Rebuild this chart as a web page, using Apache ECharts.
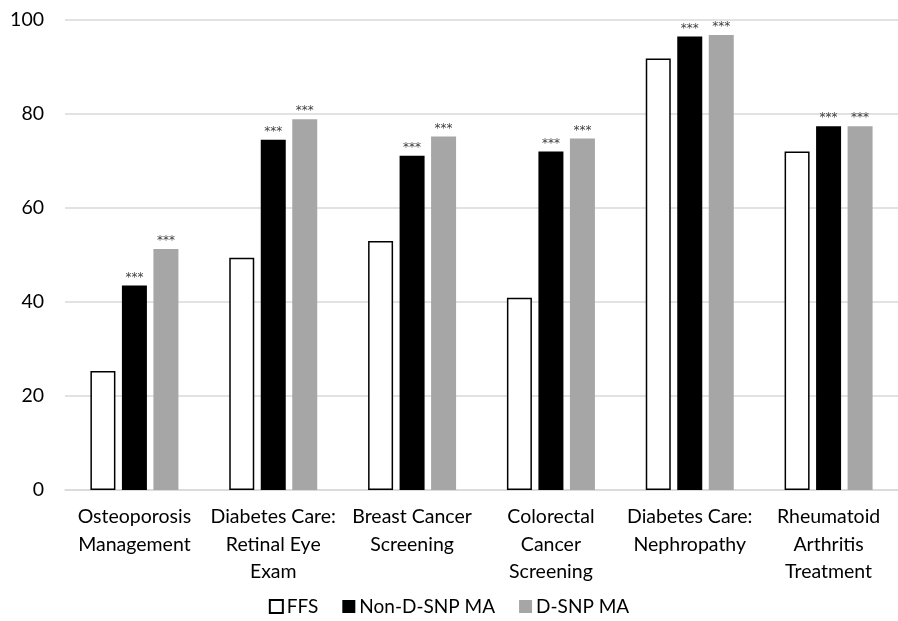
<!DOCTYPE html>
<html><head><meta charset="utf-8">
<script src="https://cdn.jsdelivr.net/npm/echarts@6/dist/echarts.min.js"></script>
<style>html,body{margin:0;padding:0;background:#fff}#c{width:898px;height:621px}</style>
</head><body><div id="c"></div>
<script>
const categories = ['Osteoporosis\nManagement','Diabetes Care:\nRetinal Eye\nExam','Breast Cancer\nScreening','Colorectal\nCancer\nScreening','Diabetes Care:\nNephropathy','Rheumatoid\nArthritis\nTreatment'];
const ffs = [25.3, 49.4, 53.0, 40.9, 91.8, 72.0];
const nonDsnp = [43.5, 74.5, 71.1, 72.0, 96.5, 77.4];
const dsnp = [51.3, 78.9, 75.2, 74.8, 96.8, 77.4];
const seriesNames = ['FFS','Non-D-SNP MA','D-SNP MA'];
const yTicks = {min:0, max:100, interval:20};

const font = 'Lato, "Open Sans", sans-serif';
const chart = echarts.init(document.getElementById('c'), null, {renderer:'canvas'});
const starLabel = {show:true, position:'top', distance:2, formatter:'***', fontSize:12, color:'#404040', fontFamily:'DejaVu Sans'};
chart.setOption({
  animation:false,
  grid:{left:65, right:-9, top:20, bottom:131, containLabel:false},
  legend:{bottom:0, left:'center', itemWidth:13, itemHeight:13, itemGap:24,
    textStyle:{fontSize:19, color:'#000', fontFamily:font, padding:[0,0,0,-1]},
    data:seriesNames.map(n=>({name:n, icon:'rect'}))},
  xAxis:{type:'category', data:categories,
    axisLine:{lineStyle:{color:'#d9d9d9', width:1.5}}, axisTick:{show:false},
    axisLabel:{interval:0, fontSize:19.5, color:'#000', fontFamily:font, lineHeight:27.5, margin:13}},
  yAxis:{type:'value', min:yTicks.min, max:yTicks.max, interval:yTicks.interval,
    axisLine:{show:false}, axisTick:{show:false},
    splitLine:{lineStyle:{color:'#d9d9d9', width:1.5}},
    axisLabel:{fontSize:19.5, color:'#000', fontFamily:font, margin:21}},
  series:[
    {name:seriesNames[0], type:'bar', data:ffs, barWidth:25, barGap:'26%',
      itemStyle:{color:'#fff', borderColor:'#000', borderWidth:1.5}},
    {name:seriesNames[1], type:'bar', data:nonDsnp, barWidth:25,
      itemStyle:{color:'#000'}, label:starLabel},
    {name:seriesNames[2], type:'bar', data:dsnp, barWidth:25,
      itemStyle:{color:'#a6a6a6'}, label:starLabel}
  ]
});
</script></body></html>
